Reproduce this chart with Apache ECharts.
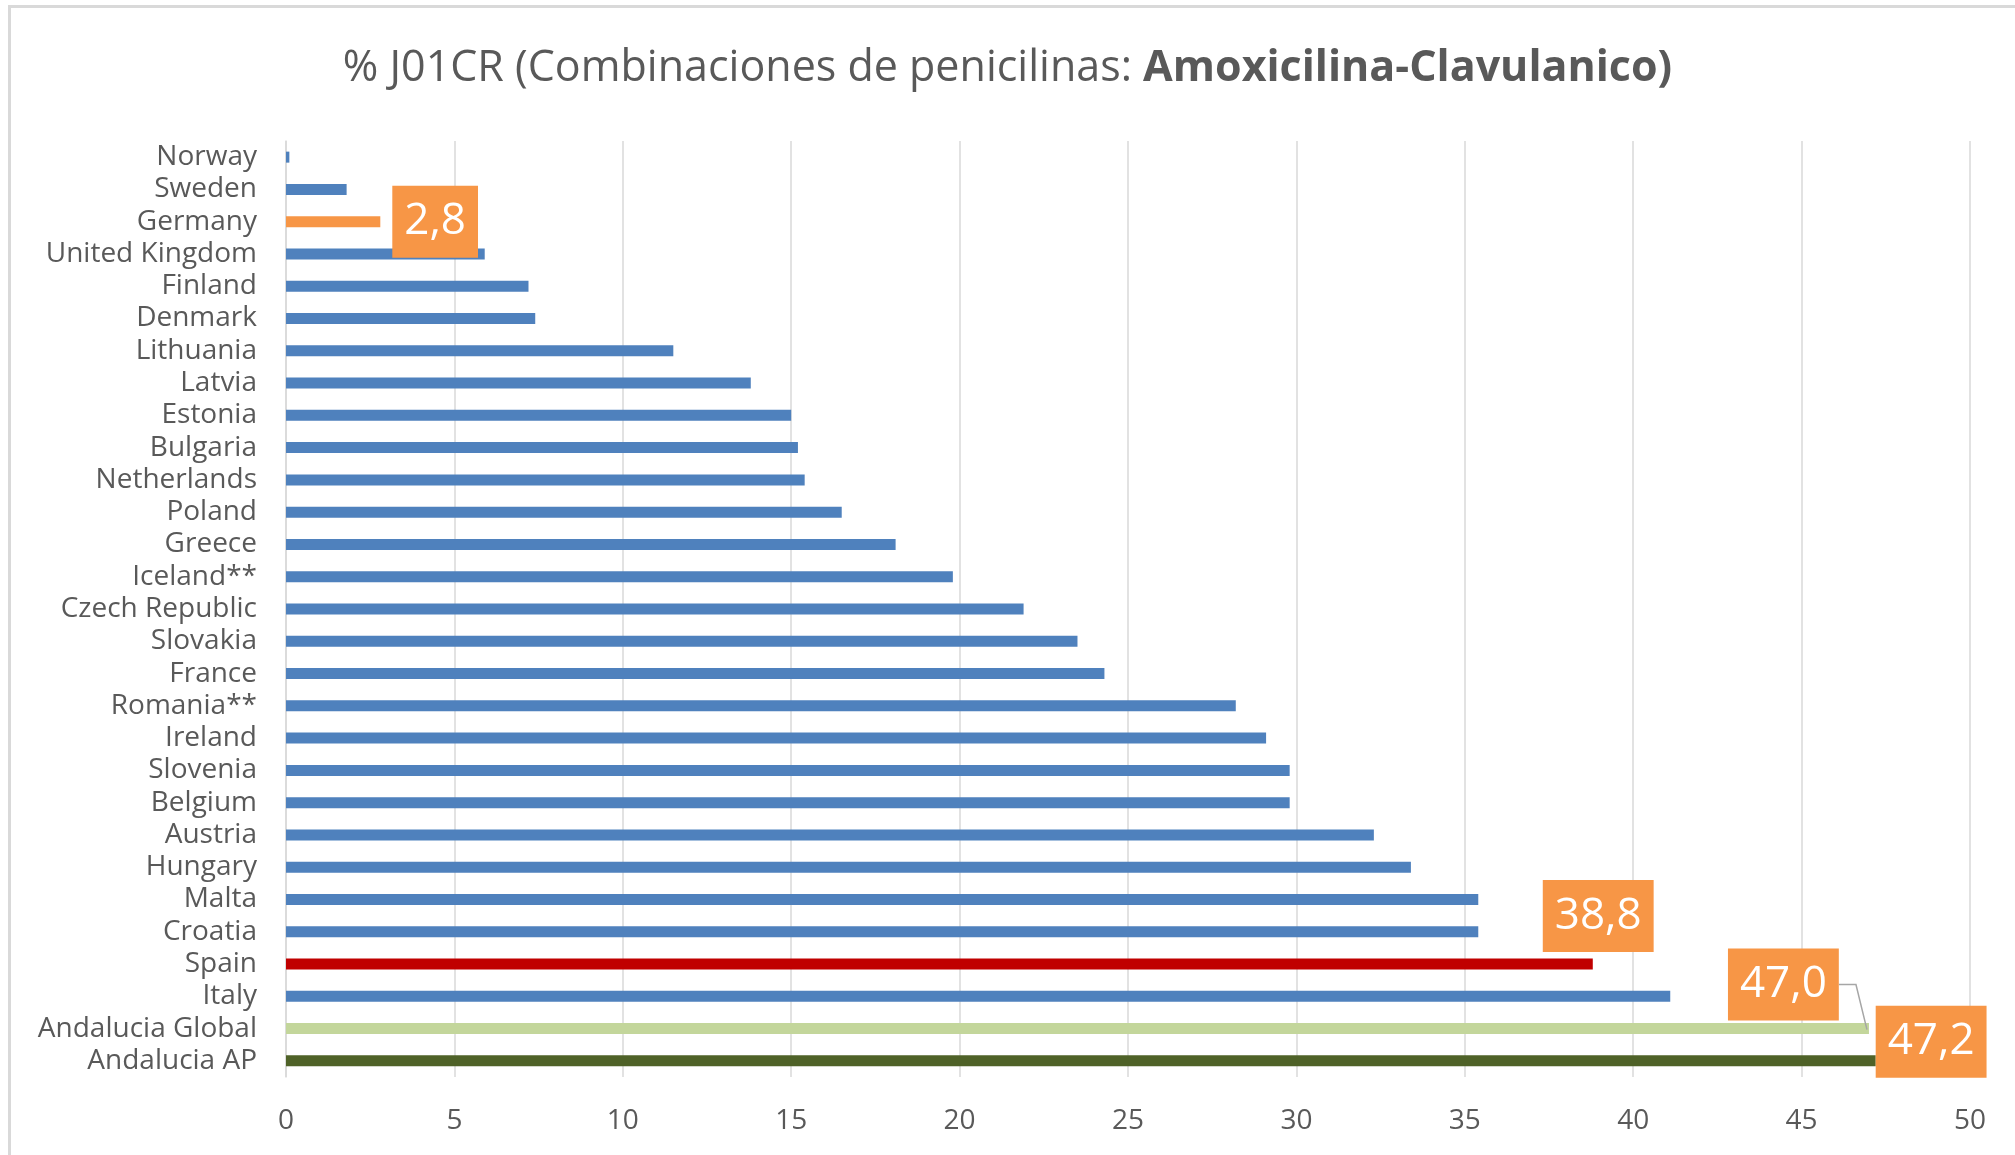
<!DOCTYPE html>
<html>
<head>
<meta charset="utf-8">
<script src="https://cdn.jsdelivr.net/npm/echarts@6/dist/echarts.min.js"></script>
<style>
  html, body { margin: 0; padding: 0; background: #fff; }
  #chart { position: absolute; left: 0; top: 0; width: 2015px; height: 1155px; }
  #frame { position: absolute; left: 8px; top: 5px; width: 2100px; height: 1300px;
           border-left: 3px solid #D9D9D9; border-top: 3px solid #D9D9D9; box-sizing: border-box; }
</style>
</head>
<body>
<div id="frame"></div>
<div id="chart"></div>
<script>
// ---- data ----
const categories = ['Norway','Sweden','Germany','United Kingdom','Finland','Denmark','Lithuania','Latvia','Estonia','Bulgaria','Netherlands','Poland','Greece','Iceland**','Czech Republic','Slovakia','France','Romania**','Ireland','Slovenia','Belgium','Austria','Hungary','Malta','Croatia','Spain','Italy','Andalucia Global','Andalucia AP'];
const values = [0.1,1.8,2.8,5.9,7.2,7.4,11.5,13.8,15.0,15.2,15.4,16.5,18.1,19.8,21.9,23.5,24.3,28.2,29.1,29.8,29.8,32.3,33.4,35.4,35.4,38.8,41.1,47.0,47.2];
const labeledCategories = ['Germany','Spain','Andalucia Global','Andalucia AP'];
const axisMin = 0, axisMax = 50, axisStep = 5;
const titleNormal = '% J01CR (Combinaciones de penicilinas: ';
const titleBold = 'Amoxicilina-Clavulanico)';

// ---- styles ----
const FONT = '"Open Sans", sans-serif';
const TEXT = '#595959';
const barColors = { 'Germany': '#F79646', 'Spain': '#C00000', 'Andalucia Global': '#C3D69B', 'Andalucia AP': '#4F6228' };
const labelPlacement = {
  'Germany':          { distance: 12, offset: [0, 0] },
  'Spain':            { distance: 0,  offset: [-50, -48] },
  'Andalucia Global': { distance: 0,  offset: [-141, -44] },
  'Andalucia AP':     { distance: 0,  offset: [0, -19] }
};
const fmt = v => v.toFixed(1).replace('.', ',');

const seriesData = categories.map((c, i) => {
  const item = { value: values[i], itemStyle: { color: barColors[c] || '#4F81BD' } };
  if (labeledCategories.includes(c)) {
    const p = labelPlacement[c];
    item.label = {
      show: true, position: 'right', distance: p.distance, offset: p.offset,
      formatter: fmt(values[i]),
      backgroundColor: '#F79646', color: '#FFFFFF',
      fontFamily: FONT, fontSize: 44, lineHeight: 48, padding: [12, 12, 12, 12]
    };
  }
  return item;
});

const chart = echarts.init(document.getElementById('chart'), null, { renderer: 'canvas' });
const option = {
  backgroundColor: 'transparent',
  animation: false,
  title: {
    left: 'center', top: 42,
    text: '{n|' + titleNormal + '}{b|' + titleBold + '}',
    textStyle: {
      rich: {
        n: { fontFamily: FONT, fontSize: 43, color: TEXT, fontWeight: 'normal' },
        b: { fontFamily: FONT, fontSize: 43, color: TEXT, fontWeight: 'bold' }
      }
    }
  },
  grid: { left: 286, right: 45, top: 141, bottom: 78, containLabel: false },
  xAxis: {
    type: 'value', min: axisMin, max: axisMax, interval: axisStep,
    axisLine: { show: false }, axisTick: { show: false },
    splitLine: { show: true, lineStyle: { color: '#D9D9D9', width: 1.5 } },
    axisLabel: { color: TEXT, fontFamily: FONT, fontSize: 28, margin: 30 }
  },
  yAxis: {
    type: 'category', data: categories, inverse: true,
    axisLine: { show: true, lineStyle: { color: '#D9D9D9', width: 1.5 } },
    axisTick: { show: false },
    axisLabel: { color: TEXT, fontFamily: FONT, fontSize: 28, margin: 29, interval: 0 }
  },
  series: [{
    type: 'bar', data: seriesData, barWidth: 11,
    label: { show: false }
  }]
};
chart.setOption(option);

// leader line for the Andalucia Global label, anchored at the bar end via the axis scale
const gi = categories.indexOf('Andalucia Global');
const end = chart.convertToPixel({ gridIndex: 0 }, [values[gi], categories[gi]]);
chart.setOption({
  graphic: [{
    type: 'polyline', silent: true, z: 100,
    shape: { points: [[end[0] - 30, end[1] - 44], [end[0] - 13, end[1] - 44], [end[0] - 2, end[1] + 1]] },
    style: { stroke: '#A6A6A6', lineWidth: 1.5, fill: null }
  }]
});
</script>
</body>
</html>
